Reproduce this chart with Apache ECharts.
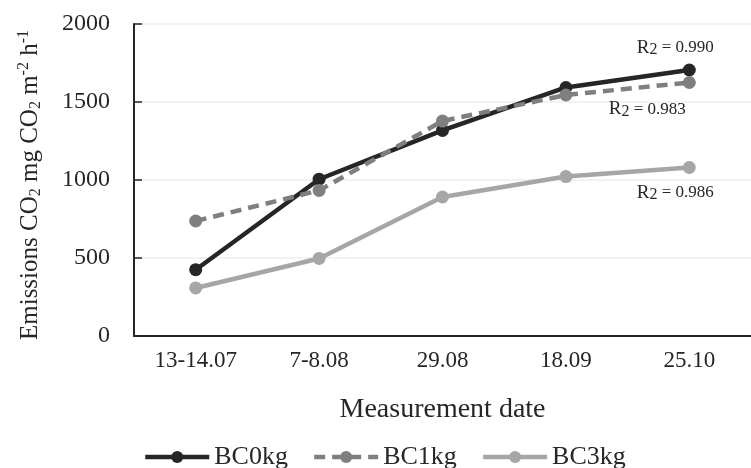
<!DOCTYPE html>
<html>
<head>
<meta charset="utf-8">
<script src="https://cdn.jsdelivr.net/npm/echarts@6/dist/echarts.min.js"></script>
<style>
  html, body { margin: 0; padding: 0; background: #fff; }
  #chart { width: 751px; height: 468px; }
</style>
</head>
<body>
<div id="chart"></div>
<script>
// measurement dates
const dates = ['13-14.07', '7-8.08', '29.08', '18.09', '25.10'];
// emissions, mg CO2 m-2 h-1
const bc0 = [425, 1005, 1318, 1593, 1705];
const bc1 = [737, 933, 1378, 1545, 1625];
const bc3 = [308, 497, 891, 1022, 1080];
// R2 of each series, put next to its last point
const r2 = { BC0kg: '0.990', BC1kg: '0.983', BC3kg: '0.986' };
const yTicks = [0, 500, 1000, 1500, 2000];

const serif = '"Liberation Serif", "Times New Roman", serif';
const ink = '#262626';

// rich styles for R2 labels
const r2Rich = {
  r: { fontFamily: serif, fontSize: 19, color: ink },
  s: { fontFamily: serif, fontSize: 16, color: ink, padding: [4, 0, 0, 0] },
  v: { fontFamily: serif, fontSize: 17, color: ink }
};

function withR2(name, values, offset) {
  return values.map(function (v, i) {
    if (i !== values.length - 1) return v;
    return {
      value: v,
      label: {
        show: true,
        position: 'inside',
        offset: offset,
        formatter: '{r|R}{s|2}{v| = ' + r2[name] + '}',
        rich: r2Rich
      }
    };
  });
}

function lineSeries(name, values, color, dashed, offset) {
  return {
    name: name,
    type: 'line',
    data: withR2(name, values, offset),
    symbol: 'circle',
    symbolSize: 13,
    lineStyle: { color: color, width: 4.5, type: dashed ? [11, 7] : 'solid' },
    itemStyle: { color: color },
    label: { show: false },
    emphasis: { disabled: true },
    z: dashed ? 3 : 2
  };
}

const chart = echarts.init(document.getElementById('chart'));
chart.setOption({
  animation: false,
  backgroundColor: '#fff',
  textStyle: { fontFamily: serif, color: ink },
  grid: { left: 134, right: 0, top: 24, bottom: 132 },
  legend: {
    top: 439,
    left: 138,
    itemWidth: 64,
    itemHeight: 15,
    itemGap: 24,
    lineStyle: { width: 4.5 },
    textStyle: { fontFamily: serif, fontSize: 26, color: ink, padding: [4, 0, 0, 0] },
    data: ['BC0kg', 'BC1kg', 'BC3kg']
  },
  xAxis: {
    type: 'category',
    data: dates,
    boundaryGap: true,
    axisLine: { lineStyle: { color: ink, width: 2 } },
    axisTick: { inside: true, alignWithLabel: true, length: 6, lineStyle: { color: ink, width: 1.5 } },
    axisLabel: { fontFamily: serif, fontSize: 23, color: ink, margin: 13 },
    name: 'Measurement date',
    nameLocation: 'middle',
    nameGap: 60,
    nameTextStyle: { fontFamily: serif, fontSize: 28, color: ink }
  },
  yAxis: {
    type: 'value',
    min: yTicks[0],
    max: yTicks[yTicks.length - 1],
    interval: 500,
    axisLine: { show: true, lineStyle: { color: ink, width: 2 } },
    axisTick: { show: true, inside: true, length: 8, lineStyle: { color: ink, width: 1.5 } },
    axisLabel: {
      fontFamily: serif, fontSize: 24, color: ink, margin: 24,
      formatter: function (v) { return String(v); }
    },
    splitLine: { lineStyle: { color: '#eeeeee', width: 1.5 } },
    name: '{t|Emissions CO}{s|2}{t| mg CO}{s|2}{t| m}{p|-2}{t| h}{p|-1}',
    nameLocation: 'middle',
    nameRotate: 90,
    nameGap: 90,
    nameTextStyle: {
      padding: [0, 10, 0, 0],
      rich: {
        t: { fontFamily: serif, fontSize: 25, color: ink },
        s: { fontFamily: serif, fontSize: 16, color: ink, padding: [12, 0, 0, 0] },
        p: { fontFamily: serif, fontSize: 16, color: ink, padding: [0, 0, 12, 0] }
      }
    }
  },
  series: [
    lineSeries('BC0kg', bc0, '#262626', false, [-14, -22]),
    lineSeries('BC1kg', bc1, '#7f7f7f', true, [-42, 27]),
    lineSeries('BC3kg', bc3, '#a6a6a6', false, [-14, 25])
  ]
});
</script>
</body>
</html>
